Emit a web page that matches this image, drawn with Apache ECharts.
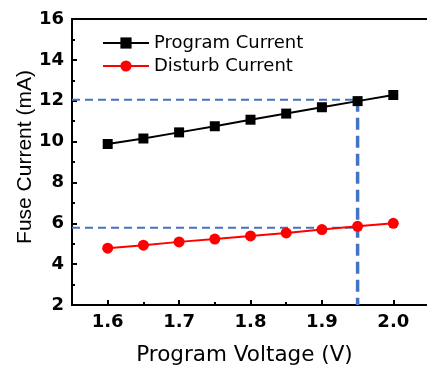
<!DOCTYPE html>
<html>
<head>
<meta charset="utf-8">
<script src="https://cdn.jsdelivr.net/npm/echarts@6/dist/echarts.min.js"></script>
<style>html,body{margin:0;padding:0;background:#fff;overflow:hidden;}#c{width:427px;height:371px;}</style>
</head>
<body>
<div id="c"></div>
<script>
const voltage = [1.6, 1.65, 1.7, 1.75, 1.8, 1.85, 1.9, 1.95, 2.0];
const programCurrent = [9.88, 10.15, 10.45, 10.75, 11.07, 11.37, 11.68, 11.98, 12.28];
const disturbCurrent = [4.78, 4.93, 5.09, 5.23, 5.38, 5.53, 5.69, 5.85, 6.0];
const xMajorTicks = [1.6, 1.7, 1.8, 1.9, 2.0];
const xMinorTicks = [1.65, 1.75, 1.85, 1.95];
const guideX = [1.55, 1.95];
const guideUpperY = 12.05;
const guideLowerY = 5.78;
const guideVertX = 1.95;
const guideVertY = [12.05, 2];

const chart = echarts.init(document.getElementById('c'));
const guideColor = '#4472C4';
const tickFont = {fontFamily: 'DejaVu Sans', fontWeight: 'bold', fontSize: 18, color: '#000'};
chart.setOption({
  animation: false,
  backgroundColor: '#fff',
  grid: {left: 72, width: 357, top: 19, height: 286, containLabel: false, outerBoundsMode: 'none',
         show: true, borderColor: '#000', borderWidth: 2, backgroundColor: 'transparent'},
  legend: {
    left: 102, top: 34, orient: 'vertical', itemWidth: 46, itemHeight: 14, itemGap: 5, padding: 0,
    data: ['Program Current', 'Disturb Current'],
    textStyle: {fontFamily: 'DejaVu Sans', fontSize: 18, color: '#000'}
  },
  xAxis: [
    {
      type: 'value', min: 1.55, max: 2.05, position: 'bottom',
      name: 'Program Voltage (V)', nameLocation: 'middle', nameGap: 39, nameMoveOverlap: false,
      nameTextStyle: {fontFamily: 'DejaVu Sans', fontSize: 21.5, color: '#000', padding: [0, 12, 0, 0]},
      axisLine: {lineStyle: {color: '#000', width: 2}},
      axisTick: {inside: true, length: 5, lineStyle: {color: '#000', width: 2}, customValues: xMajorTicks},
      axisLabel: Object.assign({margin: 8, customValues: xMajorTicks, formatter: v => v.toFixed(1)}, tickFont),
      splitLine: {show: false}
    },
    {
      type: 'value', min: 1.55, max: 2.05, position: 'bottom',
      axisLine: {show: false},
      axisTick: {inside: true, length: 3, lineStyle: {color: '#000', width: 2}, customValues: xMinorTicks},
      axisLabel: {show: false},
      splitLine: {show: false}
    }
  ],
  yAxis: {
    type: 'value', min: 2, max: 16, interval: 2,
    name: 'Fuse Current (mA)', nameLocation: 'middle', nameGap: 36, nameMoveOverlap: false,
    nameTextStyle: {fontFamily: 'Liberation Sans', fontSize: 21, color: '#000', padding: [0, 0, 0, 10]},
    axisLine: {show: true, lineStyle: {color: '#000', width: 2}},
    axisTick: {show: true, inside: true, length: 5, lineStyle: {color: '#000', width: 2}},
    minorTick: {show: true, splitNumber: 2, length: 3, lineStyle: {color: '#000', width: 2}},
    axisLabel: Object.assign({margin: 8}, tickFont),
    splitLine: {show: false}
  },
  series: [
    {
      name: 'guideUpper', type: 'line', symbol: 'none', silent: true,
      data: guideX.map(x => [x, guideUpperY]),
      lineStyle: {color: guideColor, width: 2, type: [8, 5]}
    },
    {
      name: 'guideLower', type: 'line', symbol: 'none', silent: true,
      data: guideX.map(x => [x, guideLowerY]),
      lineStyle: {color: guideColor, width: 2, type: [8, 5]}
    },
    {
      name: 'guideVert', type: 'line', symbol: 'none', silent: true,
      data: guideVertY.map(y => [guideVertX, y]),
      lineStyle: {color: guideColor, width: 3.5, type: [12, 6]}
    },
    {
      name: 'Program Current', type: 'line', symbol: 'rect', symbolSize: 10,
      data: voltage.map((x, i) => [x, programCurrent[i]]),
      itemStyle: {color: '#000'}, lineStyle: {color: '#000', width: 2}
    },
    {
      name: 'Disturb Current', type: 'line', symbol: 'circle', symbolSize: 11,
      data: voltage.map((x, i) => [x, disturbCurrent[i]]),
      itemStyle: {color: '#FF0000'}, lineStyle: {color: '#FF0000', width: 2}
    }
  ]
});
</script>
</body>
</html>
